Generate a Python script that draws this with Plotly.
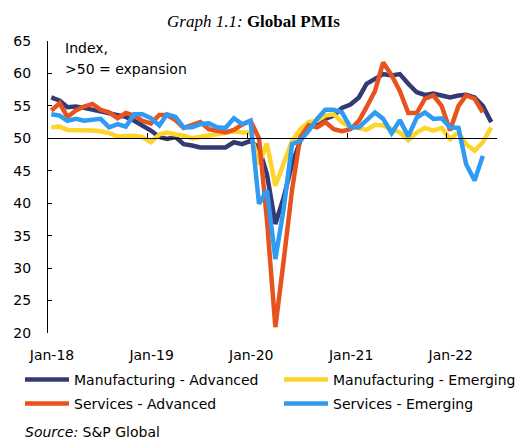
import plotly.graph_objects as go

# ---- data (monthly, Jan-2018 onwards) ----
mfg_adv = [56.3, 55.8, 54.8, 54.9, 54.7, 54.4, 54.1, 53.9, 53.6, 53.3, 52.7, 52.0,
           51.2, 50.2, 49.9, 50.2, 49.1, 48.9, 48.6, 48.6, 48.6, 48.6, 49.4, 49.1,
           49.6, 48.5, 44.5, 36.8, 40.8, 46.0, 49.6, 51.7, 52.2, 53.0, 53.5, 54.7,
           55.2, 56.3, 58.4, 59.1, 59.9, 59.7, 59.9, 58.4, 57.1, 56.7, 56.9, 56.6,
           56.3, 56.6, 56.7, 56.3, 55.0, 52.5]
mfg_em = [51.7, 51.8, 51.3, 51.3, 51.2, 51.2, 51.1, 50.8, 50.3, 50.3, 50.4, 50.2,
          49.4, 50.6, 50.9, 50.6, 50.4, 50.0, 50.2, 50.4, 50.7, 50.9, 51.1, 50.9,
          50.9, 46.0, 49.2, 42.7, 46.0, 49.6, 51.4, 52.5, 52.7, 53.5, 53.7, 52.5,
          51.7, 51.6, 51.3, 52.1, 52.0, 51.4, 50.9, 49.7, 50.9, 51.6, 51.2, 51.6,
          49.9, 50.9, 49.1, 48.1, 49.4, 51.7]
serv_adv = [54.3, 55.4, 53.3, 54.3, 54.9, 55.3, 54.4, 54.0, 53.1, 53.9, 53.5, 52.7,
            52.3, 53.6, 53.6, 52.8, 51.6, 52.0, 52.5, 51.4, 51.2, 50.9, 51.3, 52.1,
            52.7, 50.0, 37.5, 20.9, 31.0, 42.0, 50.2, 52.0, 51.7, 52.5, 51.4, 51.1,
            51.4, 52.7, 54.8, 57.3, 61.7, 59.7, 57.3, 53.9, 53.9, 56.1, 56.6, 55.0,
            51.2, 55.0, 56.6, 56.1, 54.0]
serv_em = [53.7, 53.5, 52.7, 53.0, 52.7, 52.8, 53.0, 51.7, 52.2, 51.8, 53.7, 53.7,
           53.1, 52.0, 53.7, 53.3, 51.7, 51.7, 52.2, 52.3, 51.7, 51.6, 53.1, 52.2,
           52.7, 39.9, 42.0, 31.4, 39.0, 49.1, 49.6, 51.2, 53.0, 54.4, 54.4, 54.0,
           51.7, 51.7, 52.8, 54.0, 53.0, 50.8, 52.8, 50.3, 53.2, 54.0, 53.0, 53.1,
           51.7, 51.6, 46.0, 43.5, 47.3]

def month_dates(n):
    out = []
    for i in range(n):
        y = 2018 + i // 12
        m = i % 12 + 1
        out.append(f"{y}-{m:02d}-13")
    return out

tick_vals = ["2018-01-01", "2019-01-01", "2020-01-01", "2021-01-01", "2022-01-01"]
tick_text = ["Jan-18", "Jan-19", "Jan-20", "Jan-21", "Jan-22"]

series = [
    ("Manufacturing - Advanced", mfg_adv, "#343a74", "legend"),
    ("Manufacturing - Emerging", mfg_em, "#fdd42a", "legend2"),
    ("Services - Advanced", serv_adv, "#e8521c", "legend3"),
    ("Services - Emerging", serv_em, "#2f9bf2", "legend4"),
]

FONT = "DejaVu Sans"
W, H = 516, 439
L, R, T, B = 48, 19, 41, 106
PW, PH = W - L - R, H - T - B

def px(xp):
    return (xp - L) / PW

def py(yp):
    return (H - B - yp) / PH

fig = go.Figure()
for name, vals, col, lg in series:
    fig.add_trace(go.Scatter(x=month_dates(len(vals)), y=vals, name=name, mode="lines",
                             line=dict(color=col, width=4.5), legend=lg, showlegend=True))
# helper trace for the 50-line axis
fig.add_trace(go.Scatter(x=[], y=[], xaxis="x2", showlegend=False, hoverinfo="skip"))

x_range = ["2018-01-01", "2022-07-04"]

leg_common = dict(orientation="h", xref="container", yref="container",
                  xanchor="left", yanchor="middle", itemwidth=44,
                  font=dict(size=14), bgcolor="rgba(0,0,0,0)", borderwidth=0)

fig.update_layout(
    width=W, height=H,
    showlegend=True,
    margin=dict(l=L, r=R, t=T, b=B, autoexpand=False),
    paper_bgcolor="white", plot_bgcolor="white",
    font=dict(family=FONT, size=14, color="#000"),
    title=dict(text="<i>Graph 1.1:</i> <b>Global PMIs</b>",
               font=dict(family="Liberation Serif", size=17, color="#000"),
               x=253.5 / W, xref="container", xanchor="center",
               y=1 - 21 / H, yref="container", yanchor="middle"),
    xaxis=dict(type="date", range=x_range, tickvals=tick_vals, ticktext=tick_text,
               showline=False, ticks="", showgrid=False, zeroline=False,
               tickfont=dict(size=14), ticklabelstandoff=12, ticklabelshift=4),
    xaxis2=dict(type="date", range=x_range, overlaying="x", anchor="free",
                position=(50 - 20) / (65 - 20), side="bottom",
                showline=True, linecolor="#000", linewidth=1,
                ticks="inside", ticklen=5, tickcolor="#000", tickwidth=1,
                tickvals=tick_vals, showticklabels=False, showgrid=False, zeroline=False),
    yaxis=dict(range=[20, 65], tick0=20, dtick=5, showline=True, linecolor="#000",
               linewidth=1, ticks="inside", ticklen=4, tickcolor="#000",
               showgrid=False, zeroline=False, tickfont=dict(size=14),
               ticklabelstandoff=13),
    legend=dict(x=20 / W, y=1 - 380 / H, **leg_common),
    legend2=dict(x=279 / W, y=1 - 380 / H, **leg_common),
    legend3=dict(x=20 / W, y=1 - 404 / H, **leg_common),
    legend4=dict(x=279 / W, y=1 - 404 / H, **leg_common),
    annotations=[
        dict(text="Index,", xref="paper", yref="paper", x=px(63), y=py(48),
             xanchor="left", yanchor="middle", showarrow=False, font=dict(size=14)),
        dict(text="&gt;50 = expansion", xref="paper", yref="paper", x=px(63), y=py(68.5),
             xanchor="left", yanchor="middle", showarrow=False, font=dict(size=14)),
        dict(text="<i>Source:</i> S&amp;P Global", xref="paper", yref="paper",
             x=px(23), y=py(432), xanchor="left", yanchor="middle",
             showarrow=False, font=dict(size=14)),
    ],
)

fig.write_html("out.html", config={"displayModeBar": False},
               post_script="document.body.style.margin='0';document.body.style.padding='0';")
